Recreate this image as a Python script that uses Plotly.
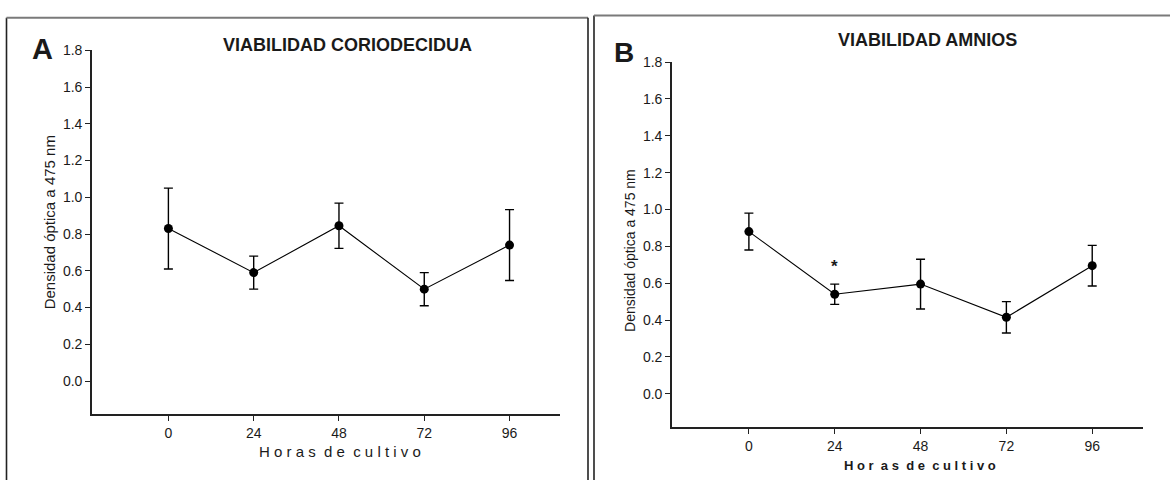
import plotly.graph_objects as go

# Culture time points (hours)
horas = [0, 24, 48, 72, 96]

# Panel A: chorio-decidua viability (optical density at 475 nm)
coriodecidua_media = [0.83, 0.59, 0.845, 0.50, 0.74]
coriodecidua_error = [0.22, 0.09, 0.123, 0.09, 0.193]

# Panel B: amnion viability
amnios_media = [0.88, 0.54, 0.595, 0.415, 0.695]
amnios_error = [0.10, 0.055, 0.135, 0.085, 0.11]

# Significance marker above the 24 h point of panel B
asterisco_x = 24
asterisco_y = 0.69

y_ticks = [0.0, 0.2, 0.4, 0.6, 0.8, 1.0, 1.2, 1.4, 1.6, 1.8]

W, H = 1170, 480
FONT = "Liberation Sans, Arial, sans-serif"
INK = "#1a1a1a"


def px(x):
    return x / W


def py(y):
    return 1 - y / H


fig = go.Figure()

for media, err, xa, ya in [
    (coriodecidua_media, coriodecidua_error, "x", "y"),
    (amnios_media, amnios_error, "x2", "y2"),
]:
    fig.add_trace(go.Scatter(
        x=horas, y=media, xaxis=xa, yaxis=ya,
        mode="lines+markers",
        line=dict(color="black", width=1.1),
        marker=dict(color="black", size=9),
        error_y=dict(type="data", array=err, visible=True,
                     color="black", thickness=1.4, width=4.5),
        showlegend=False, hoverinfo="skip",
    ))

axis_common = dict(
    showline=True, linecolor="#222", linewidth=1.6,
    ticks="outside", ticklen=5, tickwidth=1.2, tickcolor="#222",
    showgrid=False, zeroline=False,
    tickfont=dict(family=FONT, size=14, color=INK),
    fixedrange=True,
)

x_range = [-21.5, 110.2]
y_range = [-0.18, 1.8]

fig.update_layout(
    width=W, height=H,
    margin=dict(l=0, r=0, t=0, b=0),
    paper_bgcolor="white", plot_bgcolor="white",
    xaxis=dict(domain=[px(92), px(560)], range=x_range,
               tickvals=horas, anchor="y", **axis_common),
    yaxis=dict(domain=[py(413), py(43)], range=y_range,
               tickvals=y_ticks, tickformat=".1f", anchor="x", **axis_common),
    xaxis2=dict(domain=[px(672), px(1143)], range=x_range,
                tickvals=horas, anchor="y2", **axis_common),
    yaxis2=dict(domain=[py(426), py(55)], range=y_range,
                tickvals=y_ticks, tickformat=".1f", anchor="x2", **axis_common),
)

nb = "\u00a0"


def spaced(words):
    return (nb * 2).join(nb.join(w) for w in words)


annotations = [
    # panel letters
    dict(text="<b>A</b>", x=px(42.5), y=py(42), size=29),
    dict(text="<b>B</b>", x=px(624), y=py(45), size=28),
    # panel titles
    dict(text="<b>VIABILIDAD CORIODECIDUA</b>", x=px(347), y=py(38), size=18),
    dict(text="<b>VIABILIDAD AMNIOS</b>", x=px(927), y=py(33), size=18),
    # x-axis titles
    dict(text=spaced(["Horas", "de", "cultivo"]), x=px(339.5), y=py(451), size=15),
    dict(text="<b>" + spaced(["Hor", "as", "de", "cultivo"]) + "</b>",
         x=px(920), y=py(465), size=13),
]

for a in annotations:
    fig.add_annotation(
        text=a["text"], xref="paper", yref="paper", x=a["x"], y=a["y"],
        xanchor="center", yanchor="middle", showarrow=False,
        font=dict(family=FONT, size=a["size"], color=INK),
    )

# y-axis titles
for x, y, size in [(49, 218, 15), (630, 247, 14)]:
    fig.add_annotation(
        text="Densidad óptica a 475 nm", xref="paper", yref="paper",
        x=px(x), y=py(y), xanchor="center", yanchor="middle",
        textangle=-90, showarrow=False,
        font=dict(family=FONT, size=size, color=INK),
    )

# significance asterisk
fig.add_annotation(
    text="<b>*</b>", x=asterisco_x, y=asterisco_y, xref="x2", yref="y2",
    showarrow=False, xanchor="center", yanchor="middle",
    font=dict(family=FONT, size=17, color=INK),
)

# panel frames
frame_dark = dict(color="#222", width=1.6)
frame_grey = dict(color="#7a7a7a", width=2)
shapes = [
    dict(x0=px(6.5), x1=px(6.5), y0=py(10), y1=py(490), line=frame_dark),
    dict(x0=px(6.5), x1=px(588), y0=py(10), y1=py(10), line=frame_grey),
    dict(x0=px(588), x1=px(588), y0=py(10), y1=py(490), line=frame_dark),
    dict(x0=px(594), x1=px(594), y0=py(7.5), y1=py(490), line=frame_dark),
    dict(x0=px(594), x1=px(1175), y0=py(7.5), y1=py(7.5), line=frame_grey),
]
for s in shapes:
    fig.add_shape(type="line", xref="paper", yref="paper", **s)

fig.write_html("out.html")
